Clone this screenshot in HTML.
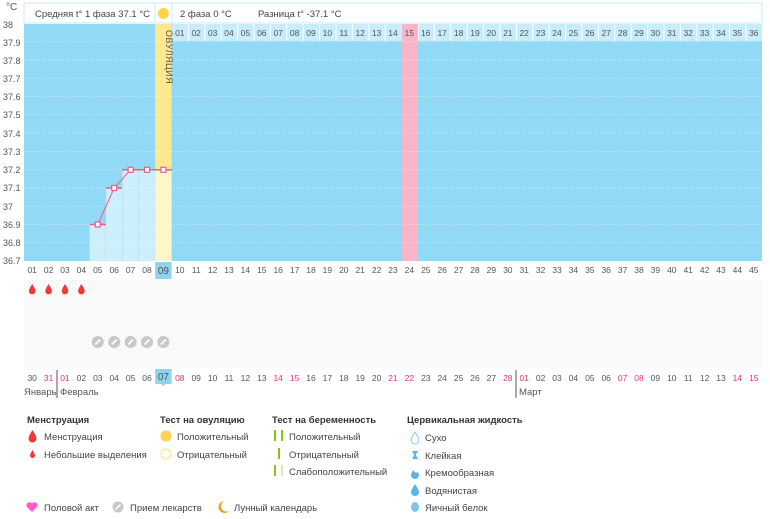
<!DOCTYPE html>
<html><head><meta charset="utf-8"><style>
body{margin:0;background:#fff;width:770px;height:514px;overflow:hidden;font-family:"Liberation Sans","DejaVu Sans",sans-serif}
svg text{font-family:"Liberation Sans","DejaVu Sans",sans-serif}
</style></head><body>
<svg width="770" height="514" xmlns="http://www.w3.org/2000/svg">
<defs>
<pattern id="dots" width="4" height="4" patternUnits="userSpaceOnUse"><rect width="4" height="4" fill="#fbfbfb"/><rect width="1" height="1" fill="#ececec"/><rect x="2" y="2" width="1" height="1" fill="#efefef"/></pattern>
</defs>
<rect x="24" y="3" width="738" height="20" fill="#fff" stroke="#c9ebf8"/>
<line x1="155" y1="3" x2="155" y2="23" stroke="#c9ebf8"/>
<line x1="172" y1="3" x2="172" y2="23" stroke="#c9ebf8"/>
<circle cx="163.4" cy="13.5" r="5.5" fill="#fcd34d"/>
<text x="150" y="17" font-size="9.5" fill="#444" text-anchor="end">Средняя t° 1 фаза 37.1 °C</text>
<text x="180" y="17" font-size="9.5" fill="#444">2 фаза 0 °C</text>
<text x="258" y="17" font-size="9.5" fill="#444">Разница t° -37.1 °C</text>
<text x="6" y="10" font-size="10" fill="#555">°C</text>
<rect x="24" y="24" width="738" height="237" fill="#92d9f5"/>
<rect x="172" y="24" width="590" height="17" fill="#c8ecfa"/>
<g stroke="#fff" stroke-width="1">
<line x1="188.4" y1="24" x2="188.4" y2="41"/><line x1="204.8" y1="24" x2="204.8" y2="41"/><line x1="221.2" y1="24" x2="221.2" y2="41"/><line x1="237.6" y1="24" x2="237.6" y2="41"/><line x1="254" y1="24" x2="254" y2="41"/><line x1="270.4" y1="24" x2="270.4" y2="41"/><line x1="286.8" y1="24" x2="286.8" y2="41"/><line x1="303.2" y1="24" x2="303.2" y2="41"/><line x1="319.6" y1="24" x2="319.6" y2="41"/><line x1="336" y1="24" x2="336" y2="41"/><line x1="352.4" y1="24" x2="352.4" y2="41"/><line x1="368.8" y1="24" x2="368.8" y2="41"/><line x1="385.2" y1="24" x2="385.2" y2="41"/><line x1="401.6" y1="24" x2="401.6" y2="41"/><line x1="418" y1="24" x2="418" y2="41"/><line x1="434.4" y1="24" x2="434.4" y2="41"/><line x1="450.8" y1="24" x2="450.8" y2="41"/><line x1="467.2" y1="24" x2="467.2" y2="41"/><line x1="483.6" y1="24" x2="483.6" y2="41"/><line x1="500" y1="24" x2="500" y2="41"/><line x1="516.4" y1="24" x2="516.4" y2="41"/><line x1="532.8" y1="24" x2="532.8" y2="41"/><line x1="549.2" y1="24" x2="549.2" y2="41"/><line x1="565.6" y1="24" x2="565.6" y2="41"/><line x1="582" y1="24" x2="582" y2="41"/><line x1="598.4" y1="24" x2="598.4" y2="41"/><line x1="614.8" y1="24" x2="614.8" y2="41"/><line x1="631.2" y1="24" x2="631.2" y2="41"/><line x1="647.6" y1="24" x2="647.6" y2="41"/><line x1="664" y1="24" x2="664" y2="41"/><line x1="680.4" y1="24" x2="680.4" y2="41"/><line x1="696.8" y1="24" x2="696.8" y2="41"/><line x1="713.2" y1="24" x2="713.2" y2="41"/><line x1="729.6" y1="24" x2="729.6" y2="41"/><line x1="746" y1="24" x2="746" y2="41"/>
</g>
<rect x="401.6" y="24" width="16.4" height="237" fill="#f7b5c8"/>
<rect x="155.2" y="24" width="16.4" height="237" fill="#fde88e"/>
<rect x="155.2" y="169.8" width="16.4" height="91.2" fill="#fff6c8"/>
<rect x="89.6" y="224.5" width="16" height="36.5" fill="#cdeefb"/>
<rect x="106" y="188" width="16" height="73" fill="#cdeefb"/>
<rect x="122.4" y="169.8" width="16" height="91.2" fill="#cdeefb"/>
<rect x="138.8" y="169.8" width="16" height="91.2" fill="#cdeefb"/>
<g stroke="#fff" stroke-dasharray="1,2" stroke-width="1" opacity="0.55">
<line x1="24" y1="41.7" x2="762" y2="41.7"/><line x1="24" y1="60" x2="762" y2="60"/><line x1="24" y1="78.3" x2="762" y2="78.3"/><line x1="24" y1="96.5" x2="762" y2="96.5"/><line x1="24" y1="114.8" x2="762" y2="114.8"/><line x1="24" y1="133.1" x2="762" y2="133.1"/><line x1="24" y1="151.5" x2="762" y2="151.5"/><line x1="24" y1="169.8" x2="762" y2="169.8"/><line x1="24" y1="188" x2="762" y2="188"/><line x1="24" y1="206.3" x2="762" y2="206.3"/><line x1="24" y1="224.5" x2="762" y2="224.5"/><line x1="24" y1="242.8" x2="762" y2="242.8"/>
</g>
<text transform="translate(166,30) rotate(90)" font-size="9" fill="#555" letter-spacing="0.5">ОВУЛЯЦИЯ</text>
<g font-size="8.5" fill="#555" text-anchor="middle">
<text x="179.8" y="36">01</text><text x="196.2" y="36">02</text><text x="212.6" y="36">03</text><text x="229" y="36">04</text><text x="245.4" y="36">05</text><text x="261.8" y="36">06</text><text x="278.2" y="36">07</text><text x="294.6" y="36">08</text><text x="311" y="36">09</text><text x="327.4" y="36">10</text><text x="343.8" y="36">11</text><text x="360.2" y="36">12</text><text x="376.6" y="36">13</text><text x="393" y="36">14</text><text x="409.4" y="36">15</text><text x="425.8" y="36">16</text><text x="442.2" y="36">17</text><text x="458.6" y="36">18</text><text x="475" y="36">19</text><text x="491.4" y="36">20</text><text x="507.8" y="36">21</text><text x="524.2" y="36">22</text><text x="540.6" y="36">23</text><text x="557" y="36">24</text><text x="573.4" y="36">25</text><text x="589.8" y="36">26</text><text x="606.2" y="36">27</text><text x="622.6" y="36">28</text><text x="639" y="36">29</text><text x="655.4" y="36">30</text><text x="671.8" y="36">31</text><text x="688.2" y="36">32</text><text x="704.6" y="36">33</text><text x="721" y="36">34</text><text x="737.4" y="36">35</text><text x="753.8" y="36">36</text>
</g>
<g stroke="#ef5b8a" stroke-width="1.5">
<line x1="90" y1="224.5" x2="106" y2="224.5"/><line x1="106" y1="188" x2="122" y2="188"/><line x1="122" y1="169.8" x2="172" y2="169.8"/>
</g>
<polyline points="97.8,224.5 114.2,188 130.6,169.8 147,169.8 163.4,169.8" fill="none" stroke="#ef5b8a" stroke-width="1"/>
<g fill="#fff" stroke="#ef5b8a" stroke-width="1.2">
<rect x="95.3" y="222" width="5" height="5"/><rect x="111.7" y="185.5" width="5" height="5"/><rect x="128.1" y="167.3" width="5" height="5"/><rect x="144.5" y="167.3" width="5" height="5"/><rect x="160.9" y="167.3" width="5" height="5"/>
</g>
<g font-size="9" fill="#555">
<text x="3" y="28">38</text><text x="3" y="46">37.9</text><text x="3" y="64">37.8</text><text x="3" y="82">37.7</text><text x="3" y="100">37.6</text><text x="3" y="118">37.5</text><text x="3" y="137">37.4</text><text x="3" y="155">37.3</text><text x="3" y="173">37.2</text><text x="3" y="191">37.1</text><text x="3" y="210">37</text><text x="3" y="228">36.9</text><text x="3" y="246">36.8</text><text x="3" y="264">36.7</text>
</g>
<rect x="155.2" y="262" width="16.4" height="17" fill="#8fd3f0"/>
<g font-size="8.5" fill="#555" text-anchor="middle">
<text x="32.2" y="273">01</text><text x="48.6" y="273">02</text><text x="65" y="273">03</text><text x="81.4" y="273">04</text><text x="97.8" y="273">05</text><text x="114.2" y="273">06</text><text x="130.6" y="273">07</text><text x="147" y="273">08</text><text x="163.4" y="274" font-size="10">09</text><text x="179.8" y="273">10</text><text x="196.2" y="273">11</text><text x="212.6" y="273">12</text><text x="229" y="273">13</text><text x="245.4" y="273">14</text><text x="261.8" y="273">15</text><text x="278.2" y="273">16</text><text x="294.6" y="273">17</text><text x="311" y="273">18</text><text x="327.4" y="273">19</text><text x="343.8" y="273">20</text><text x="360.2" y="273">21</text><text x="376.6" y="273">22</text><text x="393" y="273">23</text><text x="409.4" y="273">24</text><text x="425.8" y="273">25</text><text x="442.2" y="273">26</text><text x="458.6" y="273">27</text><text x="475" y="273">28</text><text x="491.4" y="273">29</text><text x="507.8" y="273">30</text><text x="524.2" y="273">31</text><text x="540.6" y="273">32</text><text x="557" y="273">33</text><text x="573.4" y="273">34</text><text x="589.8" y="273">35</text><text x="606.2" y="273">36</text><text x="622.6" y="273">37</text><text x="639" y="273">38</text><text x="655.4" y="273">39</text><text x="671.8" y="273">40</text><text x="688.2" y="273">41</text><text x="704.6" y="273">42</text><text x="721" y="273">43</text><text x="737.4" y="273">44</text><text x="753.8" y="273">45</text>
</g>
<rect x="24" y="280" width="738" height="88" fill="url(#dots)"/>
<g fill="#f03a3a">
<path d="M32.2,284 Q35.5,289 35.5,291 A3.3,3.3 0 0 1 28.9,291 Q28.9,289 32.2,284Z"/>
<path d="M48.6,284 Q51.9,289 51.9,291 A3.3,3.3 0 0 1 45.3,291 Q45.3,289 48.6,284Z"/>
<path d="M65,284 Q68.3,289 68.3,291 A3.3,3.3 0 0 1 61.7,291 Q61.7,289 65,284Z"/>
<path d="M81.4,284 Q84.7,289 84.7,291 A3.3,3.3 0 0 1 78.1,291 Q78.1,289 81.4,284Z"/>
</g>
<g>
<circle cx="97.8" cy="342" r="6" fill="#c8c8c8"/><circle cx="114.2" cy="342" r="6" fill="#c8c8c8"/><circle cx="130.6" cy="342" r="6" fill="#c8c8c8"/><circle cx="147" cy="342" r="6" fill="#c8c8c8"/><circle cx="163.4" cy="342" r="6" fill="#c8c8c8"/>
</g>
<g stroke="#fff" stroke-width="1.6">
<line x1="95.3" y1="344.5" x2="100.3" y2="339.5"/><line x1="111.7" y1="344.5" x2="116.7" y2="339.5"/><line x1="128.1" y1="344.5" x2="133.1" y2="339.5"/><line x1="144.5" y1="344.5" x2="149.5" y2="339.5"/><line x1="160.9" y1="344.5" x2="165.9" y2="339.5"/>
</g>
<rect x="155.2" y="369" width="16.4" height="15" fill="#8fd3f0"/>
<path d="M161.4,384 L163.4,386.5 L165.4,384Z" fill="#8fd3f0"/>
<g font-size="8.5" fill="#555" text-anchor="middle">
<text x="32.2" y="381">30</text><text x="48.6" y="381" fill="#e8336a">31</text><text x="65" y="381" fill="#e8336a">01</text><text x="81.4" y="381">02</text><text x="97.8" y="381">03</text><text x="114.2" y="381">04</text><text x="130.6" y="381">05</text><text x="147" y="381">06</text><text x="163.4" y="380" font-size="10">07</text><text x="179.8" y="381" fill="#e8336a">08</text><text x="196.2" y="381">09</text><text x="212.6" y="381">10</text><text x="229" y="381">11</text><text x="245.4" y="381">12</text><text x="261.8" y="381">13</text><text x="278.2" y="381" fill="#e8336a">14</text><text x="294.6" y="381" fill="#e8336a">15</text><text x="311" y="381">16</text><text x="327.4" y="381">17</text><text x="343.8" y="381">18</text><text x="360.2" y="381">19</text><text x="376.6" y="381">20</text><text x="393" y="381" fill="#e8336a">21</text><text x="409.4" y="381" fill="#e8336a">22</text><text x="425.8" y="381">23</text><text x="442.2" y="381">24</text><text x="458.6" y="381">25</text><text x="475" y="381">26</text><text x="491.4" y="381">27</text><text x="507.8" y="381" fill="#e8336a">28</text><text x="524.2" y="381" fill="#e8336a">01</text><text x="540.6" y="381">02</text><text x="557" y="381">03</text><text x="573.4" y="381">04</text><text x="589.8" y="381">05</text><text x="606.2" y="381">06</text><text x="622.6" y="381" fill="#e8336a">07</text><text x="639" y="381" fill="#e8336a">08</text><text x="655.4" y="381">09</text><text x="671.8" y="381">10</text><text x="688.2" y="381">11</text><text x="704.6" y="381">12</text><text x="721" y="381">13</text><text x="737.4" y="381" fill="#e8336a">14</text><text x="753.8" y="381" fill="#e8336a">15</text>
</g>
<line x1="57" y1="370" x2="57" y2="398" stroke="#555"/>
<line x1="516" y1="370" x2="516" y2="398" stroke="#555"/>
<g font-size="9.5" fill="#555">
<text x="24" y="395">Январь</text><text x="60" y="395">Февраль</text><text x="519" y="395">Март</text>
</g>
<g font-size="9.5" fill="#333" font-weight="bold">
<text x="27" y="423">Менструация</text><text x="160" y="423">Тест на овуляцию</text><text x="272" y="423">Тест на беременность</text><text x="407" y="423">Цервикальная жидкость</text>
</g>
<g font-size="9.5" fill="#444">
<text x="44" y="440">Менструация</text><text x="44" y="458">Небольшие выделения</text>
<text x="177" y="440">Положительный</text><text x="177" y="458">Отрицательный</text>
<text x="289" y="440">Положительный</text><text x="289" y="458">Отрицательный</text><text x="289" y="475">Слабоположительный</text>
<text x="425" y="441">Сухо</text><text x="425" y="459">Клейкая</text><text x="425" y="476">Кремообразная</text><text x="425" y="494">Водянистая</text><text x="425" y="511">Яичный белок</text>
<text x="44" y="511">Половой акт</text><text x="130" y="511">Прием лекарств</text><text x="234" y="511">Лунный календарь</text>
</g>
<path d="M32.5,430 Q36.5,436 36.5,438.5 A4,4 0 0 1 28.5,438.5 Q28.5,436 32.5,430Z" fill="#f03a3a"/>
<path d="M32.5,450 Q35,454 35,455.5 A2.5,2.5 0 0 1 30,455.5 Q30,454 32.5,450Z" fill="#f03a3a"/>
<circle cx="166" cy="436" r="5.5" fill="#fcd34d"/>
<circle cx="166" cy="454" r="5" fill="#fff" stroke="#fce68a" stroke-width="1.2"/>
<rect x="274" y="430" width="2" height="11" fill="#8cc414"/><rect x="281" y="430" width="2" height="11" fill="#8cc414"/>
<rect x="278" y="448" width="2" height="11" fill="#8cc414"/>
<rect x="274" y="465" width="2" height="11" fill="#8cc414"/><rect x="281" y="465" width="2" height="11" fill="#d6ecb0"/>
<path d="M415,432 Q419,438 419,440 A4,4 0 0 1 411,440 Q411,438 415,432Z" fill="#fff" stroke="#7fc8ee" stroke-width="1"/>
<path d="M412,451 H418 L415.8,455 L418,459 H412 L414.2,455Z" fill="#5bb4e8"/>
<path d="M415,467 Q419,473 419,475 A4,4 0 0 1 411,475 Q411,473 413.5,470 Q415,474 418,472 Z" fill="#5bb4e8"/>
<path d="M415,484 Q419,490 419,492 A4,4 0 0 1 411,492 Q411,490 415,484Z" fill="#5bb4e8"/>
<ellipse cx="415" cy="507" rx="4" ry="5" fill="#7cc6ee"/>
<path d="M32,512 L27,507 A2.7,2.7 0 0 1 32,503.5 A2.7,2.7 0 0 1 37,507Z" fill="#ff5cc8"/>
<circle cx="118" cy="507" r="5.5" fill="#c8c8c8"/><line x1="115.5" y1="509.5" x2="120.5" y2="504.5" stroke="#fff" stroke-width="1.6"/>
<path d="M224,501 A6,6 0 1 0 229,511 A5,5 0 0 1 224,501Z" fill="#f59b1a"/>
</svg>
</body></html>
